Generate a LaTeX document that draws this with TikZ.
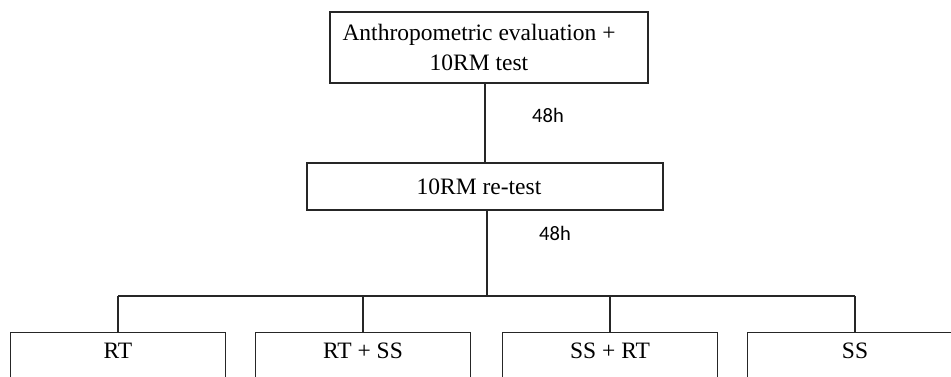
\documentclass[tikz,border=0pt]{standalone}
\usepackage{fontspec}
\setmainfont{Liberation Serif}
\newfontfamily\labelfont{Carlito}
\newcommand\padright[1]{\hbox to #1{}}
\begin{document}
\begin{tikzpicture}[x=1pt,y=-1pt,
  box/.style={draw=black!85,line width=1.2pt,rectangle,inner sep=0pt,align=center,
    font=\fontsize{23.5}{30}\selectfont},
  groupbox/.style={box,anchor=north,minimum width=215pt,text height=15pt,text depth=60pt,
    inner ysep=11pt},
  conn/.style={draw=black!85,line width=1.2pt},
  timelbl/.style={font=\labelfont\fontsize{20.5}{24}\selectfont,inner sep=0pt}]
\useasboundingbox (0,0) rectangle (951,376);
\clip (0,0) rectangle (951,376);
\fill[white] (0,0) rectangle (951,376);
\node[box,minimum width=318pt,minimum height=71pt] (top) at (489,47.5)
  {Anthropometric evaluation +\padright{20pt}\\10RM test\padright{20pt}};
\node[box,minimum width=356pt,minimum height=47pt] (mid) at (485,186.5) {10RM re-test\padright{12pt}};
\node[timelbl] (t1) at (548,115) {48h};
\node[timelbl] (t2) at (555,233) {48h};
\node[groupbox] (g1) at (118,332) {RT};
\node[groupbox] (g2) at (363,332) {RT + SS};
\node[groupbox] (g3) at (610,332) {SS + RT};
\node[groupbox] (g4) at (855,332) {SS};
\coordinate (bus) at (487,296);
\draw[conn] (mid.north) -- (mid.north |- top.south);
\draw[conn] (mid.south -| bus) -- (bus);
\draw[conn] (g1.north |- bus) -- (g4.north |- bus);
\draw[conn] (g1.north |- bus) -- (g1.north);
\draw[conn] (g2.north |- bus) -- (g2.north);
\draw[conn] (g3.north |- bus) -- (g3.north);
\draw[conn] (g4.north |- bus) -- (g4.north);
\end{tikzpicture}
\end{document}
